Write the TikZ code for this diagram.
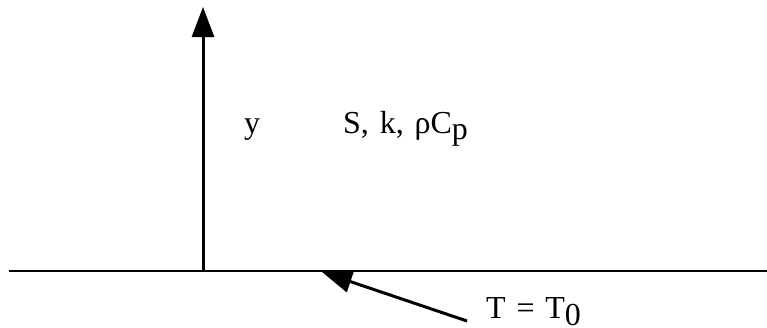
\documentclass[tikz,border=0pt]{standalone}
\usepackage{fontspec}
\setmainfont[WordSpace=1.35]{Liberation Serif}
\usetikzlibrary{arrows.meta}
\newcommand{\lowsub}[2]{\raisebox{-#1}{#2}}
\begin{document}
\begin{tikzpicture}[x=1pt,y=-1pt,
  axisline/.style={line width=2.6pt},
  arrowline/.style={line width=3pt,-{Triangle[length=30pt,width=22pt]}},
  lbl/.style={inner sep=0pt,anchor=base west,font=\fontsize{32}{32}\selectfont}]
\useasboundingbox (0,0) rectangle (767,327);
\coordinate (left) at (9,271);
\coordinate (right) at (767,271);
\coordinate (origin) at (203,271);
\coordinate (ytip) at (203,7);
\coordinate (tail) at (467,321);
\coordinate (tip) at (322,272);
\draw[axisline] (left) -- (right);
\draw[arrowline] (origin) -- (ytip);
\draw[arrowline] (tail) -- (tip);
\node[lbl] (ylabel) at (244,133) {y};
\node[lbl] (props) at (343,133) {S, k, ρC\lowsub{6pt}{p}};
\node[lbl] (bc) at (486,318) {T = T\lowsub{7pt}{0}};
\end{tikzpicture}
\end{document}
